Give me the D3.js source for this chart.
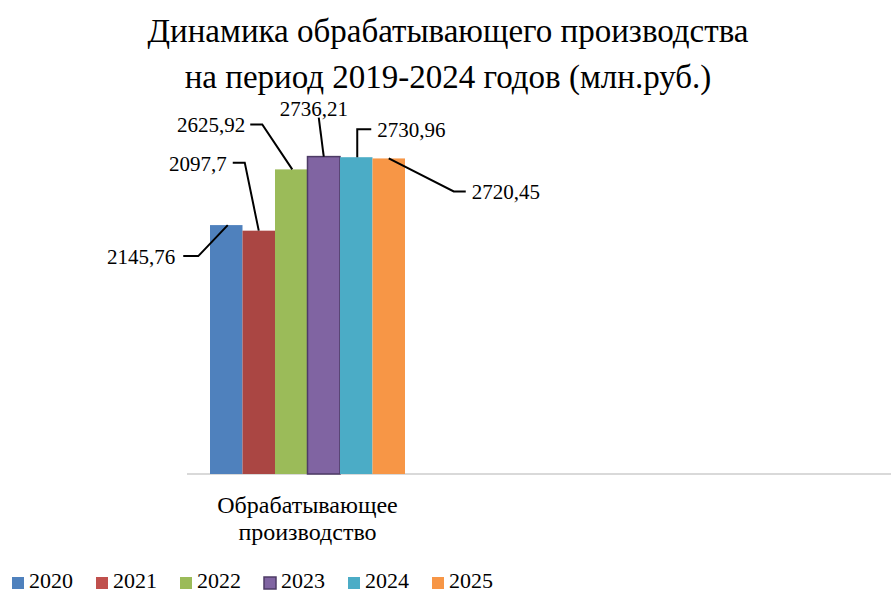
<!DOCTYPE html>
<html><head><meta charset="utf-8">
<script src="https://cdn.jsdelivr.net/npm/d3@7/dist/d3.min.js"></script>
</head><body style="margin:0;background:#fff"><svg id="c" width="891" height="592" style="display:block">
<text x="448" y="42" text-anchor="middle" font-size="33" font-family="Liberation Serif" style="font-family:'Liberation Serif','Times New Roman',serif;font-size:33px">Динамика обрабатывающего производства</text>
<text x="448" y="88" text-anchor="middle" font-size="33" font-family="Liberation Serif" style="font-family:'Liberation Serif','Times New Roman',serif;font-size:33px">на период 2019-2024 годов (млн.руб.)</text>
</svg>
<script>
const FONT = "Liberation Serif";
const FONT_CSS = "'Liberation Serif', 'Times New Roman', serif";
const categories = ["Обрабатывающее производство"];
const years = ["2020","2021","2022","2023","2024","2025"];
const values = [2145.76, 2097.7, 2625.92, 2736.21, 2730.96, 2720.45];
const valueLabels = ["2145,76","2097,7","2625,92","2736,21","2730,96","2720,45"];
const barColors = ["#4F81BD","#AA4643","#9BBB59","#8064A2","#4BACC6","#F79646"];
const legendColors = ["#4F81BD","#C0504D","#9BBB59","#8064A2","#4BACC6","#F79646"];

const leaders = [
  {pts:[[1.5,0],[-28,31],[-43,31]], t:[-8,8], a:"end"},
  {pts:[[0,0],[-14,-68],[-26,-68]], t:[-6,8], a:"end"},
  {pts:[[1,0],[-29,-45],[-41,-45]], t:[-5,8], a:"end"},
  {pts:[[0,0],[-5,-39]], t:[-5,-2], a:"middle"},
  {pts:[[1,0],[1,-28],[15,-28]], t:[6,8], a:"start"},
  {pts:[[0,0],[65,33],[77,33]], t:[6,8], a:"start"}
];

const svg = d3.select("#c");
const y = d3.scaleLinear().domain([0, 3000]).range([474, 126]);
const x0 = d3.scaleBand().domain(categories).range([210, 405]).padding(0);
const x1 = d3.scaleBand().domain(years).range([0, x0.bandwidth()]).padding(0);

function txt(sel, size){
  return sel.attr("font-family", FONT).attr("font-size", size)
    .style("font-family", FONT_CSS).style("font-size", size + "px");
}

svg.append("line").attr("x1",187).attr("x2",891).attr("y1",y(0)).attr("y2",y(0))
  .attr("stroke","#D9D9D9").attr("stroke-width",2);

const g = svg.append("g");
categories.forEach(cat=>{
  g.selectAll("rect.b").data(values).join("rect").attr("class","b")
    .attr("x",(d,i)=>x0(cat)+x1(years[i]))
    .attr("width",x1.bandwidth())
    .attr("y",d=>y(d))
    .attr("height",d=>y(0)-y(d))
    .attr("fill",(d,i)=>barColors[i])
    .attr("stroke",(d,i)=> i===3 ? "#4d3b66" : "none")
    .attr("stroke-width",(d,i)=> i===3 ? 1.5 : 0);

  values.forEach((v,i)=>{
    const cx = x0(cat)+x1(years[i])+x1.bandwidth()/2;
    const top = y(v);
    const L = leaders[i];
    const pts = L.pts.map(p=>[cx+p[0], top+p[1]]);
    svg.append("path").attr("d", d3.line()(pts)).attr("fill","none")
      .attr("stroke","#000").attr("stroke-width",2);
    const end = pts[pts.length-1];
    txt(svg.append("text").attr("x", end[0]+L.t[0]).attr("y", end[1]+L.t[1])
      .attr("text-anchor", L.a), 21).text(valueLabels[i]);
  });

  const words = cat.split(" ");
  const cxc = x0(cat)+x0.bandwidth()/2;
  words.forEach((w,i)=>{
    txt(svg.append("text").attr("x", cxc).attr("y", 513 + i*27).attr("text-anchor","middle"), 24).text(w);
  });
});

const leg = svg.append("g").selectAll("g").data(years).join("g")
  .attr("transform",(d,i)=>`translate(${12 + i*84},0)`);
leg.append("rect").attr("x",0).attr("y",577).attr("width",12).attr("height",12)
  .attr("fill",(d,i)=>legendColors[i])
  .attr("stroke",(d,i)=> i===3 ? "#4d3b66" : "none").attr("stroke-width",1.5);
txt(leg.append("text").attr("x",17).attr("y",588), 22).text(d=>d);
</script></body></html>
